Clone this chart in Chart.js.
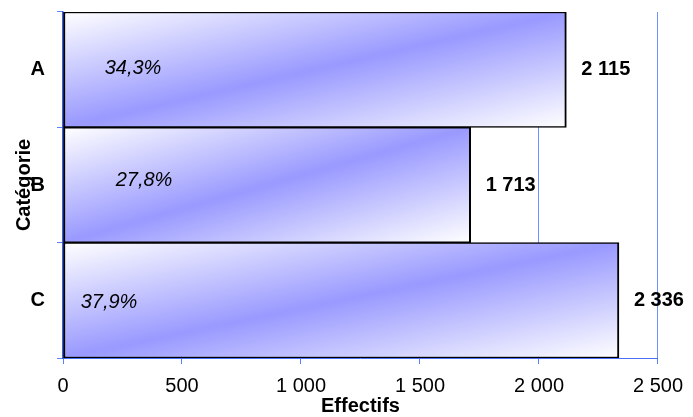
<!DOCTYPE html>
<html>
<head>
<meta charset="utf-8">
<script src="https://cdn.jsdelivr.net/npm/chart.js@4/dist/chart.umd.min.js"></script>
<style>
  html, body { margin: 0; padding: 0; background: #fff; }
  #wrap { width: 693px; height: 417px; }
</style>
</head>
<body>
<div id="wrap"><canvas id="barChart" width="693" height="417"></canvas></div>
<script>
'use strict';

// data
var categories = ['A', 'B', 'C'];
var effectifs = [2115, 1713, 2336];
var shares = [34.3, 27.8, 37.9];
var xTicks = [0, 500, 1000, 1500, 2000, 2500];

var FONT = 'Arial, "Liberation Sans", sans-serif';
var BLUE = '#9999ff';

// where the percentage labels sit inside the bars (pixels from x = 0)
var pctDx = [70, 81, 46];
var pctDy = [-1, -5, 2];

function frNum(v) {
    return String(v).replace(/\B(?=(\d{3})+(?!\d))/g, ' ');
}

function barGradient(context) {
    var chart = context.chart;
    if (!chart.chartArea || context.dataIndex === undefined) return BLUE;
    var xs = chart.scales.x, ys = chart.scales.y;
    var i = context.dataIndex;
    var left = xs.getPixelForValue(0);
    var right = xs.getPixelForValue(effectifs[i]);
    var h = (ys.bottom - ys.top) / categories.length;
    var top = ys.getPixelForValue(i) - h / 2;
    var W = Math.max(right - left, 1), H = h;
    // diagonal gradient: white corners top-left / bottom-right, blue along the other diagonal
    var k = 2 * W * H / (W * W + H * H);
    var g = chart.ctx.createLinearGradient(left, top, left + H * k, top + W * k);
    g.addColorStop(0, '#ffffff');
    g.addColorStop(0.5, BLUE);
    g.addColorStop(1, '#ffffff');
    return g;
}

var barLabels = {
    id: 'barLabels',
    afterDatasetsDraw: function (chart) {
        var ctx = chart.ctx;
        var meta = chart.getDatasetMeta(0);
        var x0 = chart.scales.x.getPixelForValue(0);
        ctx.save();
        ctx.fillStyle = '#000';
        ctx.textBaseline = 'middle';
        meta.data.forEach(function (bar, i) {
            ctx.font = 'italic 20px ' + FONT;
            ctx.textAlign = 'center';
            ctx.fillText(shares[i].toFixed(1).replace('.', ',') + '%', x0 + pctDx[i], bar.y + pctDy[i]);
            ctx.font = 'bold 20px ' + FONT;
            ctx.textAlign = 'left';
            ctx.fillText(frNum(effectifs[i]), bar.x + 15, bar.y);
        });
        ctx.restore();
    }
};

var ctx = document.getElementById('barChart').getContext('2d');
var chart = new Chart(ctx, {
    type: 'bar',
    data: {
        labels: categories,
        datasets: [{
            data: effectifs,
            backgroundColor: barGradient,
            borderColor: '#000000',
            borderWidth: { top: 1.5, bottom: 1.5, left: 2, right: 2 },
            borderSkipped: false,
            categoryPercentage: 1,
            barPercentage: 1
        }]
    },
    options: {
        indexAxis: 'y',
        responsive: false,
        animation: false,
        events: [],
        layout: { padding: { top: 12, right: 35, left: 0, bottom: 0 } },
        plugins: {
            legend: { display: false },
            tooltip: { enabled: false }
        },
        scales: {
            x: {
                min: 0,
                max: 2500,
                afterBuildTicks: function (scale) {
                    scale.ticks = xTicks.map(function (v) { return { value: v }; });
                },
                afterFit: function (scale) { scale.height = 59; },
                grid: { color: '#6f90ff', lineWidth: 1, tickLength: 6, tickColor: '#5a82ff' },
                border: { color: '#4a6ff5', width: 1 },
                ticks: {
                    padding: 10,
                    color: '#000',
                    font: { family: FONT, size: 20 },
                    callback: function (v) { return frNum(v); }
                },
                title: {
                    display: true,
                    text: 'Effectifs',
                    color: '#000',
                    font: { family: FONT, size: 20, weight: 'bold' },
                    padding: { top: 0, bottom: -1 }
                }
            },
            y: {
                afterFit: function (scale) {
                    scale.width = 63;
                    scale.paddingTop = 0;
                    scale.paddingBottom = 0;
                },
                grid: { drawOnChartArea: false, offset: true, tickLength: 6, color: '#5a82ff' },
                border: { color: '#3f5fe0', width: 1.5 },
                ticks: {
                    padding: 12,
                    color: '#000',
                    font: { family: FONT, size: 20, weight: 'bold' }
                },
                title: {
                    display: true,
                    text: 'Catégorie',
                    color: '#000',
                    font: { family: FONT, size: 20, weight: 'bold' },
                    padding: { top: 12, bottom: 0 }
                }
            }
        }
    },
    plugins: [barLabels]
});
</script>
</body>
</html>
